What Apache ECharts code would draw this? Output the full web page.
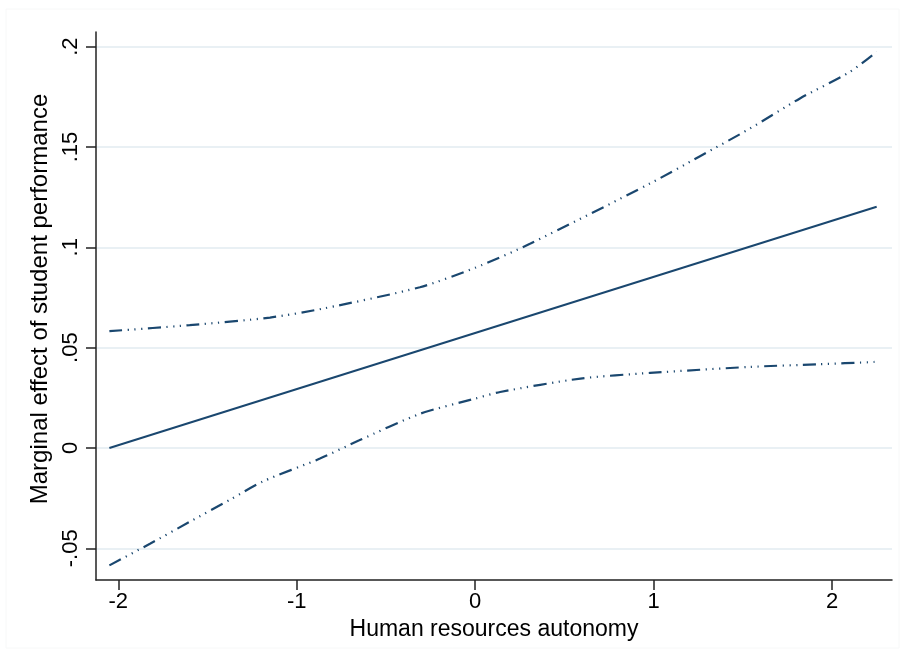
<!DOCTYPE html>
<html>
<head>
<meta charset="utf-8">
<script src="https://cdn.jsdelivr.net/npm/echarts@6/dist/echarts.min.js"></script>
<style>
  html, body { margin: 0; padding: 0; background: #ffffff; }
  #chart { width: 905px; height: 664px; }
</style>
</head>
<body>
<div id="chart"></div>
<script>
// Marginal effect estimate and its confidence band over human resources autonomy
const effectX = [-2.05, 2.25];
const effectY = [0.0000, 0.1202];

const upperX = [-2.05, -1.60, -1.15, -0.85, -0.31, 0.00, 0.31, 0.98, 1.26, 1.54, 1.82, 2.10, 2.25];
const upperY = [0.0582, 0.0612, 0.0650, 0.0695, 0.0801, 0.0898, 0.1019, 0.1318, 0.1454, 0.1592, 0.1742, 0.1874, 0.1974];

const lowerX = [-2.05, -1.82, -1.60, -1.37, -1.19, -0.87, -0.65, -0.31, 0.00, 0.14, 0.59, 0.98, 1.54, 1.92, 2.25];
const lowerY = [-0.0585, -0.0476, -0.0368, -0.0256, -0.0167, -0.0053, 0.0038, 0.0170, 0.0246, 0.0279, 0.0346, 0.0374, 0.0404, 0.0417, 0.0429];

const xTicks = [-2, -1, 0, 1, 2];
const yTicks = [-0.05, 0, 0.05, 0.1, 0.15, 0.2];

const xTitle = 'Human resources autonomy';
const yTitle = 'Marginal effect of student performance';

const pairs = (xs, ys) => xs.map((x, i) => [x, ys[i]]);

// Stata-style numbers: drop the leading zero (".05", "-.05")
const stataNum = v => {
  if (Math.abs(v) < 1e-12) return '0';
  const s = String(Math.round(v * 1000) / 1000);
  return s.replace(/^(-?)0\./, '$1.');
};

const navy = '#1a476f';
const font = "'Liberation Sans', Arial, sans-serif";
const bandDash = [13, 5.5, 1.2, 5.5, 1.2, 5.5, 1.2, 5.5];

const chart = echarts.init(document.getElementById('chart'), null, { renderer: 'canvas' });

chart.setOption({
  backgroundColor: '#ffffff',
  animation: false,
  graphic: [{
    type: 'rect',
    shape: { x: 6, y: 9, width: 893, height: 639 },
    style: { fill: 'none', stroke: '#f7f8f8', lineWidth: 1 },
    silent: true,
    z: -1
  }],
  grid: { left: 96, right: 13, top: 32, bottom: 84, containLabel: false },
  xAxis: {
    type: 'value',
    min: -2.125,
    max: 2.336,
    name: xTitle,
    nameLocation: 'middle',
    nameGap: 32,
    nameTextStyle: { fontFamily: font, fontSize: 23, color: '#000' },
    axisLine: { show: true, onZero: false, lineStyle: { color: '#222', width: 1.5 } },
    axisTick: { show: true, length: 10, customValues: xTicks, lineStyle: { color: '#222', width: 1.5 } },
    axisLabel: {
      customValues: xTicks,
      margin: 11,
      fontFamily: font, fontSize: 22, color: '#000',
      formatter: v => stataNum(v)
    },
    splitLine: { show: false }
  },
  yAxis: {
    type: 'value',
    min: -0.0658,
    max: 0.2073,
    name: yTitle,
    nameLocation: 'middle',
    nameGap: 39,
    nameRotate: 90,
    nameTextStyle: { fontFamily: font, fontSize: 24, color: '#000', padding: [0, 0, 0, 14] },
    axisLine: { show: true, onZero: false, lineStyle: { color: '#222', width: 1.5 } },
    axisTick: { show: true, length: 10, customValues: yTicks, lineStyle: { color: '#222', width: 1.5 } },
    axisLabel: {
      customValues: yTicks,
      rotate: 90,
      margin: 14,
      fontFamily: font, fontSize: 22, color: '#000',
      formatter: v => stataNum(v)
    },
    splitLine: { show: true, lineStyle: { color: '#e9f0f4', width: 2 } }
  },
  series: [
    {
      name: 'Upper bound',
      type: 'line',
      data: pairs(upperX, upperY),
      smooth: 0.25,
      showSymbol: false,
      lineStyle: { color: navy, width: 2.2, type: bandDash, cap: 'butt' }
    },
    {
      name: 'Lower bound',
      type: 'line',
      data: pairs(lowerX, lowerY),
      smooth: 0.25,
      showSymbol: false,
      lineStyle: { color: navy, width: 2.2, type: bandDash, cap: 'butt' }
    },
    {
      name: 'Marginal effect',
      type: 'line',
      data: pairs(effectX, effectY),
      showSymbol: false,
      lineStyle: { color: navy, width: 2 }
    }
  ]
});
</script>
</body>
</html>
